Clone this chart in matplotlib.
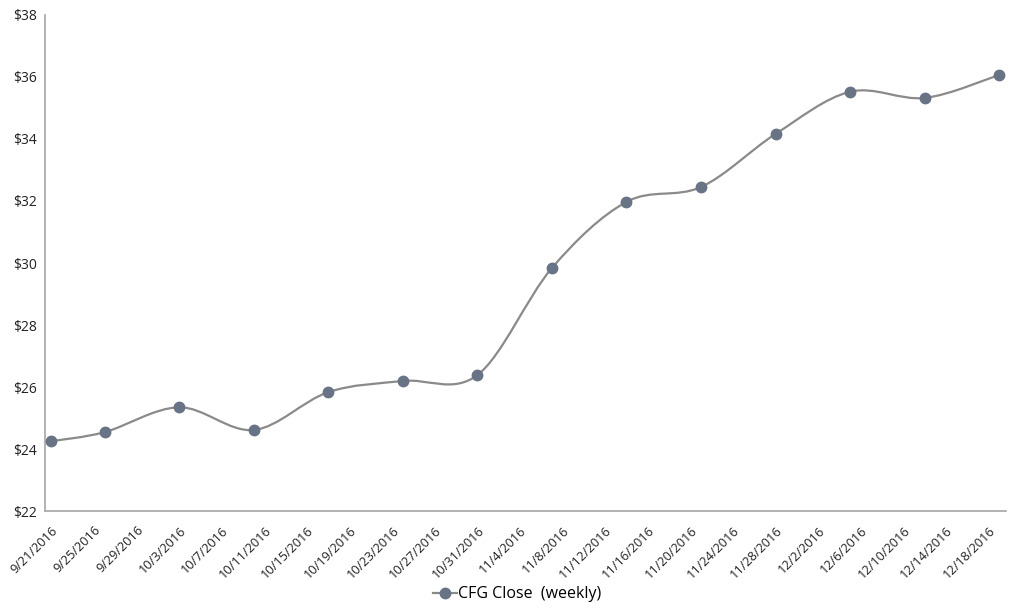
import matplotlib
matplotlib.use("Agg")
import matplotlib.pyplot as plt
import matplotlib.dates as mdates
from matplotlib.path import Path
from matplotlib.patches import PathPatch
from matplotlib.lines import Line2D
import numpy as np
from datetime import datetime, timedelta

# weekly closes
dates = ["2016-09-21", "2016-09-26", "2016-10-03", "2016-10-10", "2016-10-17",
         "2016-10-24", "2016-10-31", "2016-11-07", "2016-11-14", "2016-11-21",
         "2016-11-28", "2016-12-05", "2016-12-12", "2016-12-19"]
close = [24.26, 24.55, 25.35, 24.62, 25.84, 26.20, 26.39, 29.84, 31.97,
         32.45, 34.16, 35.52, 35.32, 36.06]

line_col = "#8a8a8a"
marker_col = "#687486"

plt.rcParams['font.family'] = ['Open Sans', 'DejaVu Sans']

x = mdates.date2num([datetime.strptime(d, "%Y-%m-%d") for d in dates])
y = np.array(close)

fig = plt.figure(figsize=(10.24, 6.16), dpi=100)
ax = fig.add_axes([0.044, 0.170, 0.938, 0.806])

# smoothed line (catmull-rom style bezier segments, like excel "smoothed line")
verts = [(x[0], y[0])]
codes = [Path.MOVETO]
n = len(x)
for i in range(n - 1):
    p0 = (x[i - 1], y[i - 1]) if i > 0 else (x[i], y[i])
    p1 = (x[i], y[i])
    p2 = (x[i + 1], y[i + 1])
    p3 = (x[i + 2], y[i + 2]) if i + 2 < n else (x[i + 1], y[i + 1])
    c1 = (p1[0] + (p2[0] - p0[0]) / 6, p1[1] + (p2[1] - p0[1]) / 6)
    c2 = (p2[0] - (p3[0] - p1[0]) / 6, p2[1] - (p3[1] - p1[1]) / 6)
    verts += [c1, c2, p2]
    codes += [Path.CURVE4] * 3
ax.add_patch(PathPatch(Path(verts, codes), facecolor="none",
                       edgecolor=line_col, lw=1.6, zorder=2))
ax.plot(x, y, "o", color=marker_col, ms=7.5, zorder=3)

start = datetime(2016, 9, 21)
ticks = [start + timedelta(days=4 * k) for k in range(23)]
ax.set_xticks(mdates.date2num(ticks))
ax.set_xticklabels([f"{t.month}/{t.day}/{t.year}" for t in ticks],
                   rotation=45, ha="right", va="top", rotation_mode="anchor",
                   fontsize=9.2)
ax.set_xlim(x[0] - 0.6, x[-1] + 0.6)

ax.set_ylim(22, 38)
ax.set_yticks(range(22, 39, 2))
ax.set_yticklabels([f"${v}" for v in range(22, 39, 2)], fontsize=10)

ax.tick_params(length=0, pad=6, colors="#222222")
ax.tick_params(axis="x", pad=9)
for s in ["top", "right"]:
    ax.spines[s].set_visible(False)
for s in ["left", "bottom"]:
    ax.spines[s].set_color("#a6a6a6")
    ax.spines[s].set_linewidth(1.2)

handle = Line2D([], [], color=line_col, lw=1.6, marker="o",
                markerfacecolor=marker_col, markeredgecolor=marker_col, ms=7.5)
fig.legend([handle], ["CFG Close  (weekly)"], loc="center",
           bbox_to_anchor=(0.505, 0.035), frameon=False, fontsize=11.5,
           handlelength=1.5, handletextpad=0.1)

fig.savefig("out.png", dpi=100)
